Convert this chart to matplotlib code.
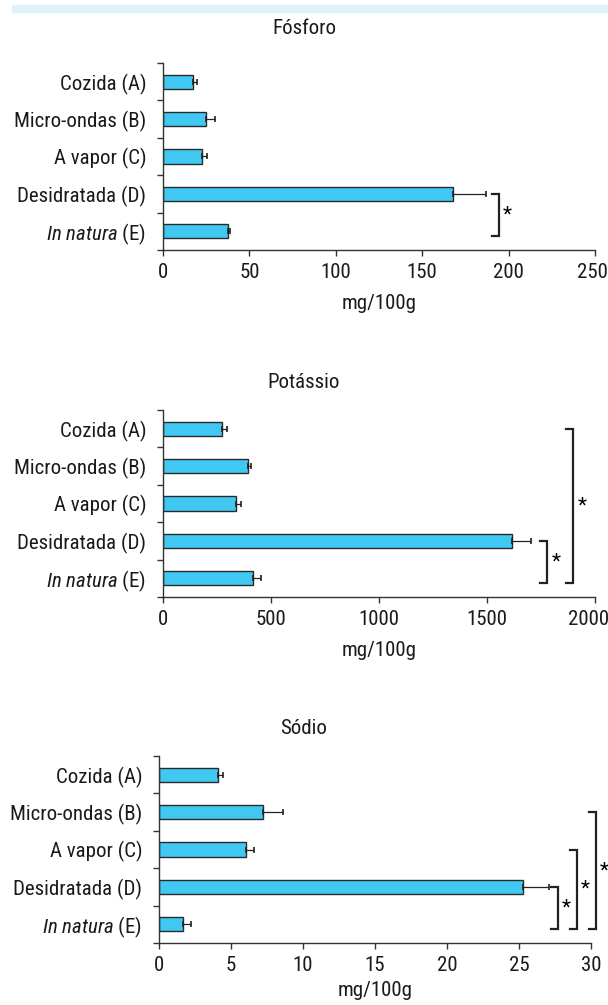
import matplotlib
matplotlib.use("Agg")
import matplotlib.pyplot as plt
from matplotlib import font_manager
from matplotlib.transforms import ScaledTranslation
import numpy as np

# pick a narrow face if one is installed
fam, stretch = 'Roboto', 'normal'
for f in font_manager.fontManager.ttflist:
    if f.name in ('Liberation Sans Narrow', 'Roboto Condensed'):
        fam, stretch = f.name, 'normal'
        break
    if f.name == 'DejaVu Sans' and 'ondensed' in str(f.stretch) + f.fname:
        fam, stretch = 'DejaVu Sans', 'condensed'

plt.rcParams['font.family'] = [fam, 'DejaVu Sans']
plt.rcParams['font.stretch'] = stretch
plt.rcParams['mathtext.fontset'] = 'custom'
plt.rcParams['mathtext.rm'] = fam
plt.rcParams['mathtext.it'] = fam + ':italic'

# data
categories = ["Cozida (A)", "Micro-ondas (B)", "A vapor (C)", "Desidratada (D)",
              r"$\mathit{In\ natura}$ (E)"]

fosforo = [17.3, 24.6, 22.5, 168.0, 37.4]
fosforo_err = [2.2, 5.5, 3.0, 19.0, 1.1]
fosforo_sig = [(3, 4)]

potassio = [272, 395, 340, 1615, 415]
potassio_err = [22, 12, 22, 90, 38]
potassio_sig = [(3, 4), (0, 4)]

sodio = [4.1, 7.25, 6.05, 25.3, 1.7]
sodio_err = [0.35, 1.35, 0.57, 1.75, 0.52]
sodio_sig = [(3, 4), (2, 4), (1, 4)]

titles = ["Fósforo", "Potássio", "Sódio"]
xmax = [250, 2000, 30]
xticks = [np.arange(0, 251, 50), np.arange(0, 2001, 500), np.arange(0, 31, 5)]

bar_color = '#40C8F2'
W, H = 608, 1005
fig = plt.figure(figsize=(W / 100, H / 100), dpi=100)

# light band on top
fig.patches.append(plt.Rectangle((12 / W, 1 - 12 / H), (W - 12) / W, 7 / H,
                                 transform=fig.transFigure, color='#DFF2FA', zorder=0))

# axes boxes in pixels: left, top, right, bottom
boxes = [(163, 63, 595, 250), (163, 410, 595, 597), (159, 756, 591, 943)]
title_y = [28, 382, 728]
xlab_pad = [9, 9, 5]
bracket_pad = [13, 16, 9]     # px from longest error bar
bracket_step = [0, 26, 19]    # px between nested brackets
last_shift = [-3, -6, 0]      # px nudge of the last x tick label
fs = 15

panels = [(fosforo, fosforo_err, fosforo_sig),
          (potassio, potassio_err, potassio_sig),
          (sodio, sodio_err, sodio_sig)]

for k, (vals, errs, sig) in enumerate(panels):
    l, t, r, b = boxes[k]
    ax = fig.add_axes([l / W, 1 - b / H, (r - l) / W, (b - t) / H])
    y = np.arange(len(categories)) + 0.5
    ax.barh(y, vals, height=0.38, color=bar_color, edgecolor='#2a2a2a', linewidth=1.0, zorder=2)
    ax.errorbar(vals, y, xerr=[np.zeros(len(vals)), errs], fmt='none', ecolor='#222222',
                elinewidth=0.9, capsize=2.5, capthick=1.2, zorder=3)
    ax.set_ylim(len(categories), 0)
    ax.set_xlim(0, xmax[k])
    ax.set_xticks(xticks[k])
    ax.set_yticks(np.arange(len(categories) + 1))
    ax.set_yticklabels([])
    ax.set_yticks(y, minor=True)
    ax.set_yticklabels(categories, minor=True, fontsize=fs, color='#1a1a1a')
    ax.tick_params(axis='y', which='minor', length=0, pad=12)
    ax.tick_params(axis='y', which='major', length=4, width=1.0, color='#333333')
    ax.tick_params(axis='x', length=4, width=1.0, labelsize=fs, pad=5, color='#333333',
                   labelcolor='#1a1a1a')
    lab = ax.get_xticklabels()[-1]
    lab.set_transform(lab.get_transform() + ScaledTranslation(last_shift[k] / 100, 0,
                                                              fig.dpi_scale_trans))
    for s in ['top', 'right']:
        ax.spines[s].set_visible(False)
    for s in ['left', 'bottom']:
        ax.spines[s].set_linewidth(1.0)
        ax.spines[s].set_color('#333333')
    ax.set_xlabel("mg/100g", fontsize=fs, labelpad=xlab_pad[k], color='#1a1a1a')
    fig.text(0.5, 1 - title_y[k] / H, titles[k], ha='center', va='center', fontsize=fs,
             color='#1a1a1a')

    # significance brackets
    ppu = (r - l) / xmax[k]
    tick = 7 / ppu
    x0 = max(np.array(vals) + np.array(errs)) + bracket_pad[k] / ppu
    for j, (i1, i2) in enumerate(sig):
        xb = x0 + j * bracket_step[k] / ppu
        ytop = y[i1]
        ybot = y[i2] + 0.13
        ax.plot([xb - tick, xb, xb, xb - tick], [ytop, ytop, ybot, ybot], color='#222222',
                lw=1.6, clip_on=False, solid_joinstyle='miter')
        ax.text(xb + 4 / ppu, (ytop + ybot) / 2, "*", fontsize=fs, ha='left', va='center',
                clip_on=False)

fig.savefig("out.png", dpi=100)
